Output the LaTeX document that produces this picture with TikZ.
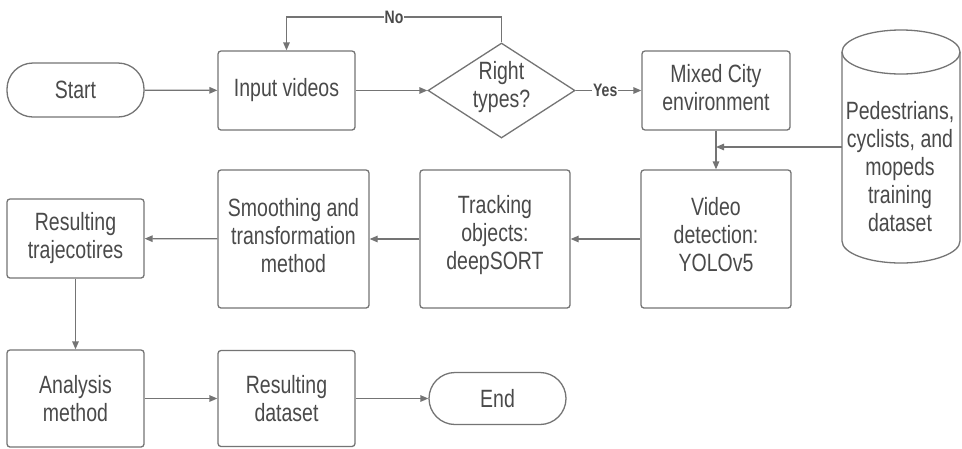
\documentclass[tikz,border=0pt]{standalone}
\usepackage{fontspec}
\setmainfont{Liberation Sans}[FakeStretch=0.78]
\usetikzlibrary{shapes.geometric,arrows.meta}
\definecolor{linec}{HTML}{747474}
\definecolor{txtc}{HTML}{4A4A4A}
\tikzset{
  base/.style={draw=linec, line width=1.3pt, text=txtc, align=center, inner sep=2pt,
    font=\fontsize{25}{28}\selectfont},
  box/.style={base, rounded corners=3pt},
  term/.style={base, rounded corners=26pt, minimum width=137pt},
  txt/.style={text=txtc, align=center, font=\fontsize{25}{28}\selectfont},
  conn/.style={draw=linec, line width=1.3pt, -{Triangle[length=8pt,width=6.5pt]}},
  lab/.style={fill=white, text=txtc, inner sep=1pt, font=\fontsize{18}{20}\selectfont\bfseries},
}
\begin{document}
\begin{tikzpicture}[x=1pt,y=-1pt]
\fill[white] (0,0) rectangle (962,448);
\useasboundingbox (0,0) rectangle (962,448);
% nodes
\node[term, minimum height=54pt] (start) at (75.5,90) {Start};
\node[box, minimum width=137pt, minimum height=79pt] (input) at (286.5,90.5) {Input videos};
\node[diamond, draw=linec, line width=1.3pt, minimum width=147pt, minimum height=95pt, inner sep=0pt] (dia) at (501.5,90.5) {};
\node[txt] (diat) at (501.5,87) {Right\\types?};
\node[box, minimum width=148pt, minimum height=79pt] (mixed) at (716,90.5) {};
\node[txt] (mixedt) at ([yshift=3pt]mixed.center) {Mixed City\\environment};
\node[box, minimum width=150pt, minimum height=138pt] (video) at (716,239) {};
\node[txt] (videot) at ([yshift=4pt]video.center) {Video\\detection:\\YOLOv5};
\node[box, minimum width=150pt, minimum height=138pt] (track) at (495,239) {};
\node[txt] (trackt) at ([yshift=4pt]track.center) {Tracking\\objects:\\deepSORT};
\node[box, minimum width=151pt, minimum height=138pt] (smooth) at (293.5,239) {};
\node[txt] (smootht) at ([yshift=3pt]smooth.center) {Smoothing and\\transformation\\method};
\node[box, minimum width=137pt, minimum height=79pt] (traj) at (75.5,238.5) {Resulting\\trajecotires};
\node[box, minimum width=137pt, minimum height=97pt] (anal) at (75.5,398.5) {Analysis\\method};
\node[box, minimum width=137pt, minimum height=96pt] (dset) at (286.5,398.5) {Resulting\\dataset};
\node[term, minimum height=52pt] (end) at (497.5,398.5) {End};
% cylinder
\node[minimum width=118pt, minimum height=233pt, inner sep=0pt] (db) at (901,146.5) {};
\draw[draw=linec, line width=1.3pt] (901,52) ellipse [x radius=59pt, y radius=22pt];
\draw[draw=linec, line width=1.3pt] (842,52) -- (842,241) arc[start angle=180, end angle=360, x radius=59pt, y radius=22pt] -- (960,52);
\node[txt] (dbt) at (900,167) {Pedestrians,\\cyclists, and\\mopeds\\training\\dataset};
% connectors
\draw[conn] (start) -- (input);
\draw[conn] (input) -- (dia);
\coordinate (n1) at (501.5,17);
\coordinate (n2) at (286.5,17);
\draw[conn] (dia.north) -- (n1) -- node[lab, pos=0.5] {No} (n2) -- (input.north);
\draw[conn] (dia.east) -- node[lab, pos=0.45] {Yes} (mixed.west);
\draw[conn] (mixed) -- (video);
\coordinate (dbin) at (842,147);
\coordinate (jn) at (716,147);
\draw[conn] (dbin) -- (jn);
\draw[conn] (video) -- (track);
\draw[conn] (track) -- (smooth);
\draw[conn] (smooth) -- (traj);
\draw[conn] (traj) -- (anal);
\draw[conn] (anal) -- (dset);
\draw[conn] (dset) -- (end);
\end{tikzpicture}
\end{document}
